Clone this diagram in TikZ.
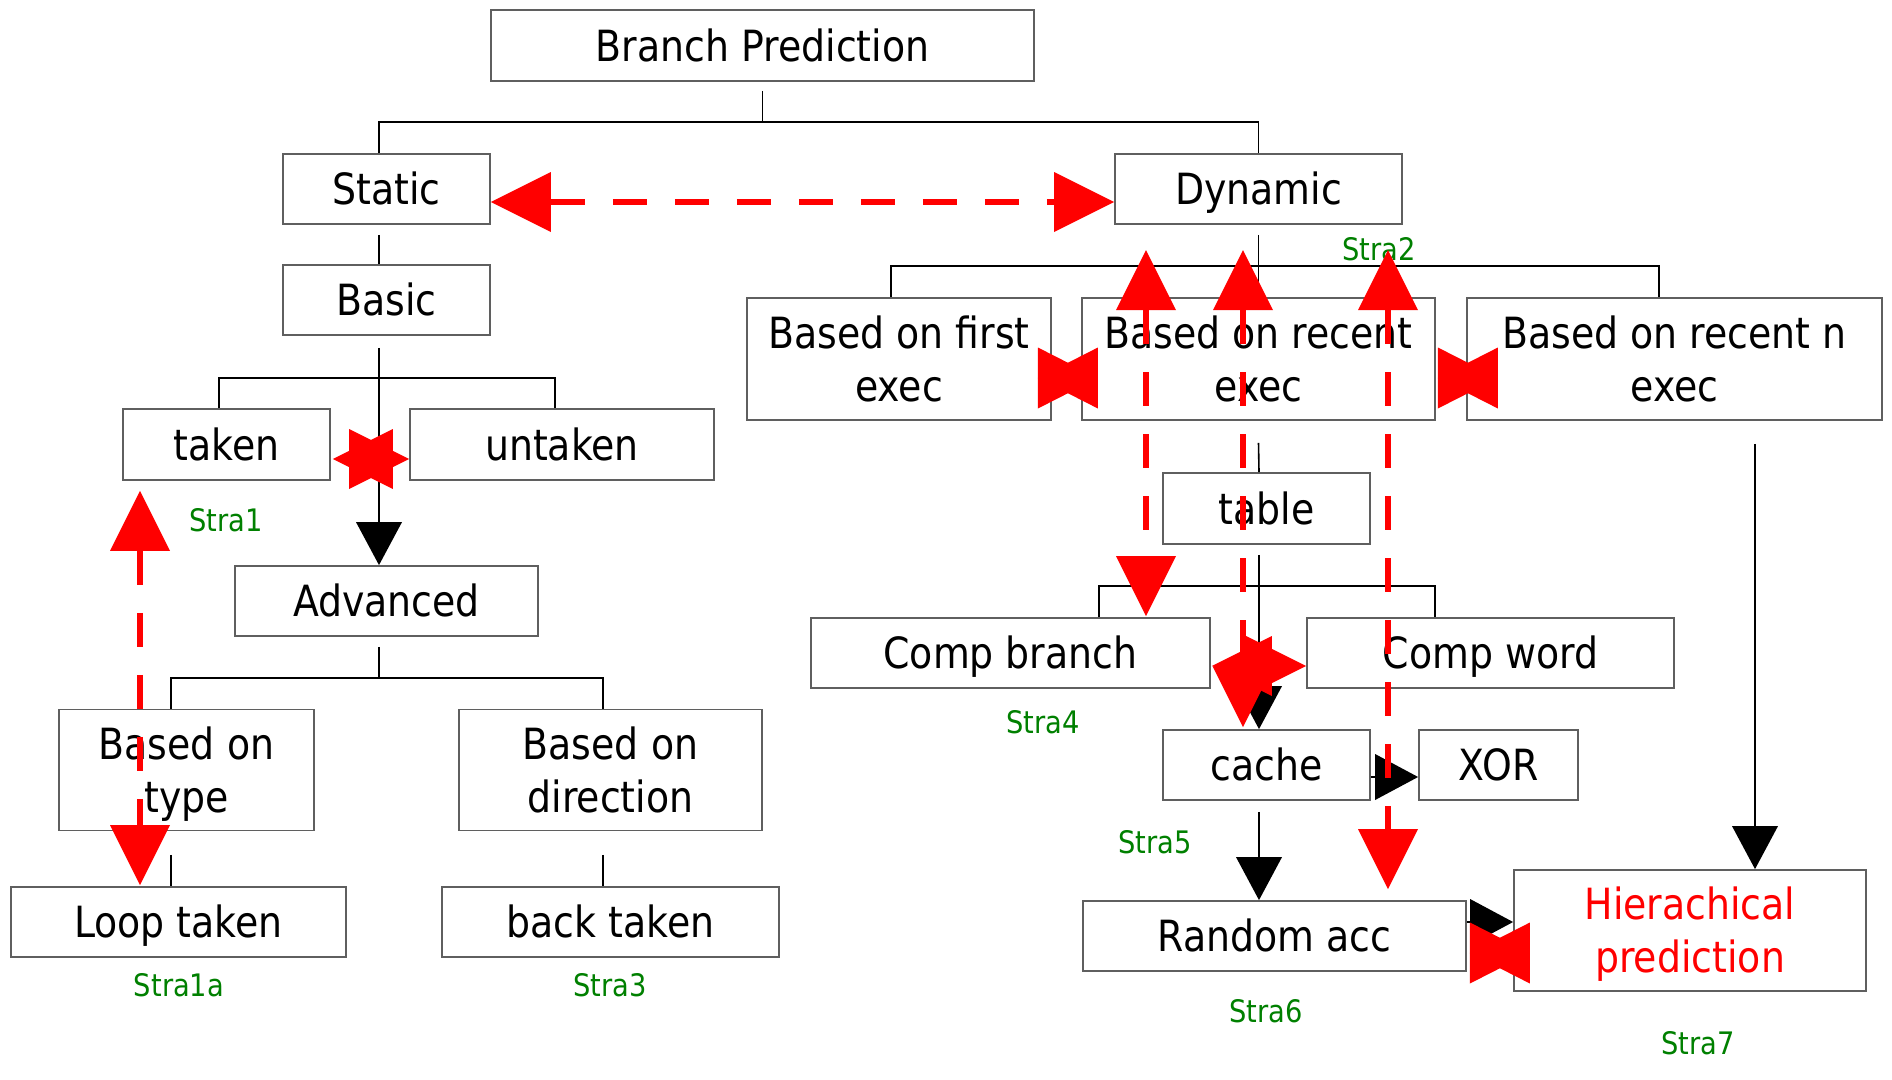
\documentclass[tikz,border=0pt]{standalone}
\usepackage{fontspec}
\setmainfont[FakeStretch=0.88]{DejaVu Sans}
\usetikzlibrary{arrows.meta}
\definecolor{bordercol}{RGB}{95,95,95}
\definecolor{labgreen}{RGB}{0,128,0}
\newcommand\redbowtie[1]{%
  \fill[red] ([shift={(-30,-30.5)}]#1) -- ([shift={(-30,30.5)}]#1) -- ([shift={(30,0)}]#1) -- cycle;
  \fill[red] ([shift={(30,-30.5)}]#1) -- ([shift={(30,30.5)}]#1) -- ([shift={(-30,0)}]#1) -- cycle;}
\begin{document}
\begin{tikzpicture}[x=1pt,y=-1pt,
  box/.style={draw=bordercol,line width=1.8pt,fill=white,inner sep=0pt,align=center,
    font=\fontsize{43}{53}\selectfont,text height=31pt,text depth=0pt},
  box2/.style={box,text height=84pt,text depth=0pt},
  lab/.style={text=labgreen,inner sep=0pt,font=\fontsize{31}{36}\selectfont},
  tree/.style={draw=black,line width=1.6pt},
  barrow/.style={draw=black,line width=2.6pt,-{Triangle[length=43pt,width=46pt,line width=0pt]}},
  rarrow/.style={draw=red,line width=5.5pt,dash pattern=on 34pt off 28pt,
    {Triangle[length=60pt,width=60pt,line width=0pt]}-{Triangle[length=60pt,width=60pt,line width=0pt]}},
  rthin/.style={draw=red,line width=1pt}]
\fill[white] (0,0) rectangle (1892,1079);
\useasboundingbox (0,0) rectangle (1892,1079);

% boxes
\node[box,minimum width=543pt,minimum height=71pt] (bp) at (762.5,45.5) {Branch Prediction};
\node[box,minimum width=207pt,minimum height=70pt] (static) at (386.5,189) {Static};
\node[box,minimum width=287pt,minimum height=70pt] (dynamic) at (1258.5,189) {Dynamic};
\node[box,minimum width=207pt,minimum height=70pt] (basic) at (386.5,300) {Basic};
\node[box,minimum width=207pt,minimum height=71pt] (taken) at (226.5,444.5) {taken};
\node[box,minimum width=304pt,minimum height=71pt] (untaken) at (562,444.5) {untaken};
\node[box,minimum width=303pt,minimum height=70pt] (advanced) at (386.5,601) {Advanced};
\node[box2,minimum width=255pt,minimum height=121pt] (type) at (186.5,770) {Based on\\type};
\node[box2,minimum width=303pt,minimum height=121pt] (direction) at (610.5,770) {Based on\\direction};
\node[box,minimum width=335pt,minimum height=70pt] (loop) at (178.5,922) {Loop taken};
\node[box,minimum width=337pt,minimum height=70pt] (back) at (610.5,922) {back taken};
\node[box2,minimum width=304pt,minimum height=122pt] (first) at (899,359) {Based on first\\exec};
\node[box2,minimum width=353pt,minimum height=122pt] (recent) at (1258.5,359) {Based on recent\\exec};
\node[box2,minimum width=415pt,minimum height=122pt] (recentn) at (1674.5,359) {Based on recent n\\exec};
\node[box,minimum width=207pt,minimum height=71pt] (table) at (1266.5,508.5) {table};
\node[box,minimum width=399pt,minimum height=70pt] (compbranch) at (1010.5,653) {Comp branch};
\node[box,minimum width=367pt,minimum height=70pt] (compword) at (1490.5,653) {Comp word};
\node[box,minimum width=207pt,minimum height=70pt] (cache) at (1266.5,765) {cache};
\node[box,minimum width=159pt,minimum height=70pt] (xor) at (1498.5,765) {XOR};
\node[box,minimum width=383pt,minimum height=70pt] (random) at (1274.5,936) {Random acc};
\node[box2,minimum width=352pt,minimum height=121pt,text=red] (hier) at (1690,930.5) {Hierachical\\prediction};

% green labels
\node[lab] (s2) at (1379,249) {Stra2};
\node[lab] (s1) at (226,520) {Stra1};
\node[lab] (s1a) at (179,985) {Stra1a};
\node[lab] (s3) at (610,985) {Stra3};
\node[lab] (s4) at (1043,722) {Stra4};
\node[lab] (s5) at (1155,842) {Stra5};
\node[lab] (s6) at (1266,1011) {Stra6};
\node[lab] (s7) at (1698,1043) {Stra7};

% tree connectors
\coordinate (h1) at (763,122);
\coordinate (h2) at (379,378);
\coordinate (h3) at (379,678);
\coordinate (h4) at (1259,266);
\coordinate (h5) at (1259,586);
\draw[tree] ([yshift=-9pt]bp.south) -- (bp.south |- h1);
\draw[tree] ([xshift=-7.5pt]static.north) |- (h1) -| (dynamic.north);
\draw[tree] ([xshift=-7.5pt,yshift=-10pt]static.south) -- ([xshift=-7.5pt]basic.north);
\draw[tree] ([xshift=-7.5pt]taken.north) |- (h2) -| ([xshift=-7pt]untaken.north);
\draw[tree] ([xshift=-7.5pt,yshift=-10pt]advanced.south) -- (h3);
\draw[tree] ([xshift=-15.5pt]type.north) |- (h3) -| ([xshift=-7.5pt]direction.north);
\draw[tree] ([xshift=-15.5pt,yshift=-23.5pt]type.south) -- ([xshift=-7.5pt]loop.north);
\draw[tree] ([xshift=-7.5pt,yshift=-23.5pt]direction.south) -- ([xshift=-7.5pt]back.north);
\draw[tree] ([yshift=-10pt]dynamic.south) -- (recent.north);
\draw[tree] ([xshift=-8pt]first.north) |- (h4) -| ([xshift=-15.5pt]recentn.north);
\draw[tree] ([yshift=-22pt]recent.south) -- ([xshift=-7.5pt]table.north);
\draw[tree] ([xshift=88.5pt]compbranch.north) |- (h5) -| ([xshift=-55.5pt]compword.north);

% black arrows
\draw[barrow] ([xshift=-7.5pt,yshift=-12pt]basic.south) -- ([xshift=-7.5pt]advanced.north);
\draw[barrow] ([xshift=-7.5pt,yshift=-10pt]table.south) -- ([xshift=-7.5pt]cache.north);
\draw[barrow] ([yshift=-12pt]cache.east) -- ([yshift=-12pt]xor.west);
\draw[barrow] ([xshift=-7.5pt,yshift=-11pt]cache.south) -- ([xshift=-15.5pt]random.north);
\draw[barrow] ([xshift=80.5pt,yshift=-23pt]recentn.south) -- ([xshift=65pt]hier.north);
\draw[barrow] ([yshift=14pt]random.east) -- ([yshift=8.5pt]hier.west);

% red dashed double arrows
\draw[rarrow] ([yshift=-13pt]static.east) -- ([yshift=-13pt]dynamic.west);
\draw[rarrow] ([xshift=2pt,yshift=-14.5pt]taken.east) -- ([yshift=-14.5pt]untaken.west);
\draw[rarrow] ([xshift=-86.5pt,yshift=-10pt]taken.south) -- ([xshift=-38.5pt,yshift=1pt]loop.north);
\draw[rarrow] ([xshift=1pt,yshift=-13pt]compbranch.east) -- ([yshift=-13pt]compword.west);
\draw[rarrow] ([xshift=-112.5pt,yshift=47pt]recent.north) -- ([xshift=135.5pt,yshift=1pt]compbranch.north);
\draw[rarrow] ([xshift=-15.5pt,yshift=47pt]recent.north) -- ([xshift=-23.5pt,yshift=2pt]cache.north);
\draw[rarrow] ([xshift=129.5pt,yshift=47pt]recent.north) -- ([xshift=113.5pt,yshift=11pt]random.north);

% short red double arrows (bow ties)
\coordinate (bt1) at ([xshift=16pt,yshift=-19pt]first.east);
\coordinate (bt2) at ([xshift=32pt,yshift=-19pt]recent.east);
\coordinate (bt3) at ([xshift=33pt,yshift=-17pt]random.east);
\draw[rthin] ([xshift=-14pt,yshift=-19pt]first.east) -- ([xshift=15pt,yshift=-19pt]recent.west);
\draw[rthin] ([xshift=2pt,yshift=-19pt]recent.east) -- ([xshift=30pt,yshift=-19pt]recentn.west);
\draw[rthin] ([xshift=3pt,yshift=-17pt]random.east) -- ([xshift=15pt,yshift=-22.5pt]hier.west);
\redbowtie{bt1}
\redbowtie{bt2}
\redbowtie{bt3}
\end{tikzpicture}
\end{document}
